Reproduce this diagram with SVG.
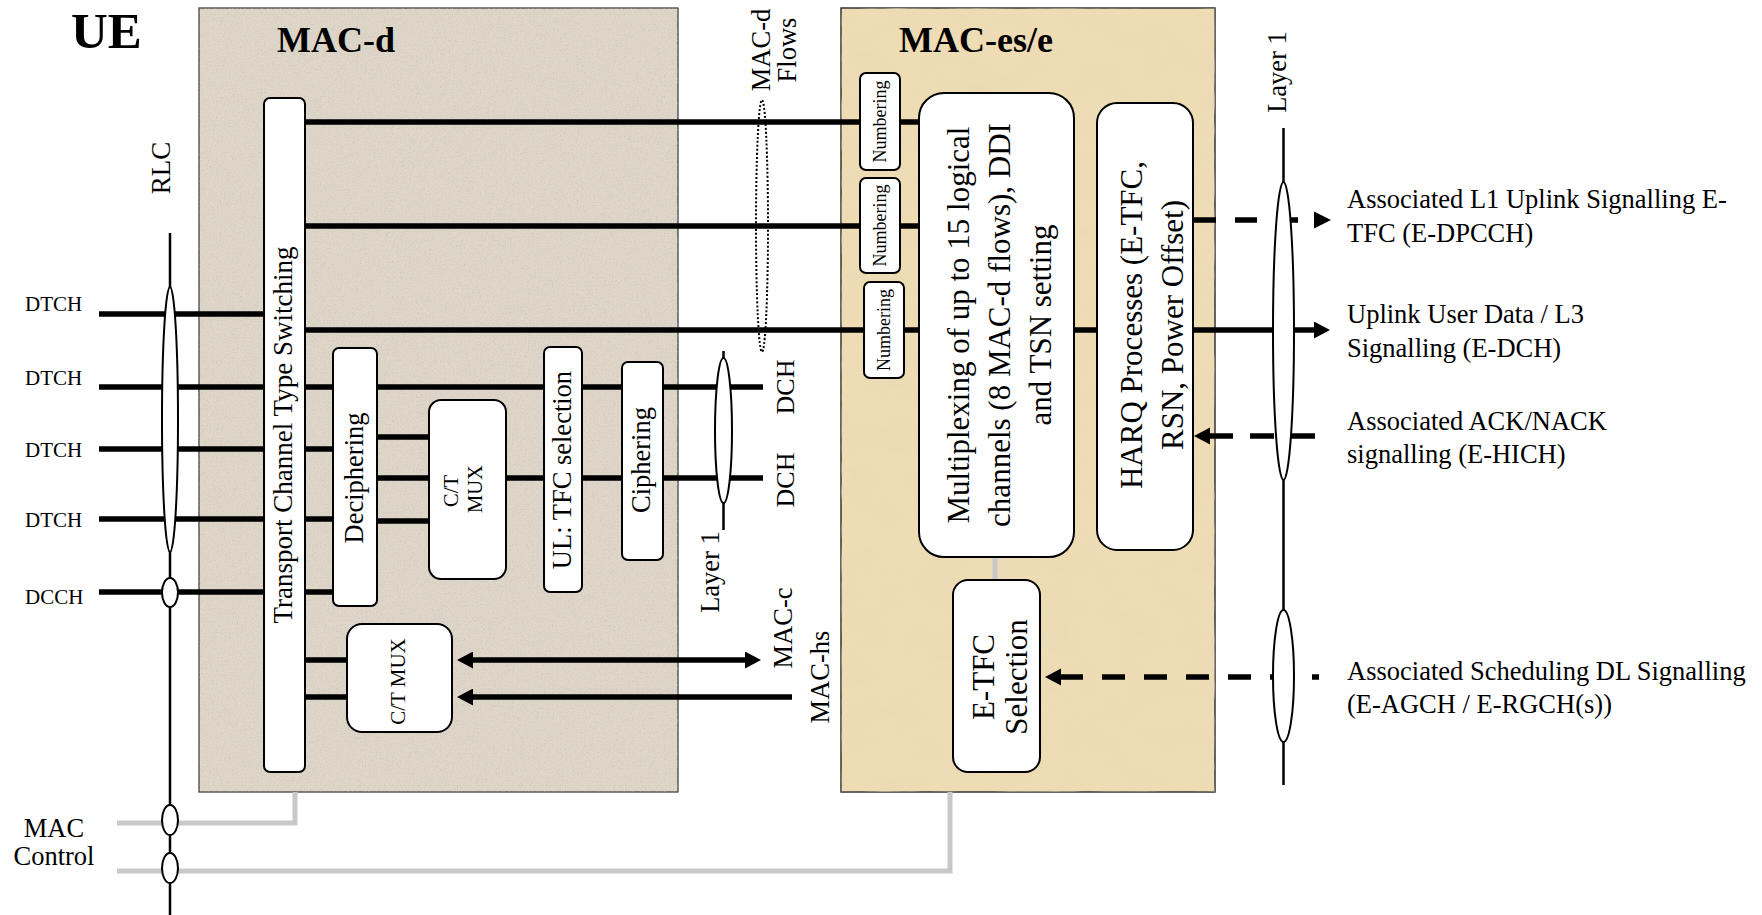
<svg xmlns="http://www.w3.org/2000/svg" width="1762" height="915" viewBox="0 0 1762 915">
<style>
text{font-family:"Liberation Serif","Times New Roman",serif;fill:#000}
.b{font-weight:bold}
.f21{font-size:21px}.f18{font-size:18px}.f24{font-size:26px}.f26{font-size:26.5px}.f31{font-size:31px}
.box{fill:#fff;stroke:#000;stroke-width:2}
.w{stroke:#000;stroke-width:5.5;fill:none}
.g{stroke:#c8c8c8;stroke-width:5;fill:none}
.t{stroke:#000;stroke-width:2.5;fill:none}
.el{fill:#fff;stroke:#000;stroke-width:2}
.mid{text-anchor:middle}
</style>
<defs>
<marker id="ah" viewBox="0 0 16 17" refX="1" refY="8.5" markerWidth="16" markerHeight="17" orient="auto-start-reverse" markerUnits="userSpaceOnUse"><path d="M0,0 L16,8.5 L0,17 z" fill="#000"/></marker>
<filter id="speck" x="0" y="0" width="100%" height="100%">
<feTurbulence type="fractalNoise" baseFrequency="0.75" numOctaves="3" seed="4" result="n"/>
<feColorMatrix in="n" type="matrix" values="0 0 0 0 0.55 0 0 0 0 0.5 0 0 0 0 0.44 0 0 0 -2.5 1.3" result="s"/>
<feComposite in="s" in2="SourceGraphic" operator="in"/>
</filter>
<filter id="cloud" x="0" y="0" width="100%" height="100%">
<feTurbulence type="fractalNoise" baseFrequency="0.025 0.04" numOctaves="3" seed="9" result="n"/>
<feColorMatrix in="n" type="matrix" values="0 0 0 0 0.82 0 0 0 0 0.7 0 0 0 0 0.45 0 0 0 -2.2 1.35" result="s"/>
<feComposite in="s" in2="SourceGraphic" operator="in"/>
</filter>
</defs>
<rect width="1762" height="915" fill="#fff"/>

<g id="ue-title"><text class="b" x="71" y="48" style="font-size:51px">UE</text></g>

<g id="mac-d">
<rect x="199" y="8" width="479" height="784" fill="#ded6c8" stroke="#333" stroke-width="1.2"/>
<rect x="199" y="8" width="479" height="784" fill="#fff" filter="url(#speck)" opacity="0.6"/>
<text class="b" x="277" y="52" style="font-size:36px">MAC-d</text>
</g>

<g id="mac-es-e">
<rect x="841" y="8" width="374" height="784" fill="#eedcb4" stroke="#333" stroke-width="1.5"/>
<rect x="841" y="8" width="374" height="784" fill="#fff" filter="url(#cloud)" opacity="0.7"/>
<text class="b" x="899" y="52" style="font-size:36px">MAC-es/e</text>
</g>

<g id="connectors">
<path class="w" d="M99,314 H264 M99,387 H264 M99,449 H264 M99,519 H264 M99,592 H264"/>
<path class="w" d="M305,387 H333 M305,449 H333 M305,519 H333 M305,592 H333"/>
<path class="w" d="M305,122 H860 M900,122 H919 M305,226 H860 M900,226 H918 M305,330 H864 M904,330 H919 M1074,330 H1097"/>
<path class="w" d="M1193,330 H1315" marker-end="url(#ah)"/>
<path class="w" d="M377,387 H544 M582,387 H622 M663,387 H763"/>
<path class="w" d="M377,437 H429 M377,478 H429 M377,521 H429 M506,478 H544 M582,478 H622 M663,478 H763"/>
<path class="w" d="M305,660 H347 M305,697 H347"/>
<path class="w" d="M472,660 H746" marker-start="url(#ah)" marker-end="url(#ah)"/>
<path class="w" d="M792,697 H472" marker-end="url(#ah)"/>
<path class="w" d="M1194,220 H1300" stroke-dasharray="22 19"/>
<path d="M1314,211.5 L1331,220 L1314,228.5 z" fill="#000"/>
<path class="w" d="M1315,436 H1210" stroke-dasharray="24 17"/>
<path d="M1210,427.5 L1194,436 L1210,444.5 z" fill="#000"/>
<path class="w" d="M1060,677 H1319" stroke-dasharray="23 19"/>
<path d="M1061,668.5 L1045,677 L1061,685.5 z" fill="#000"/>
<path class="g" d="M295,792 V823 H117"/>
<path class="g" d="M950,792 V871 H117"/>
<path class="g" d="M995,557 V580"/>
<path class="t" d="M170,233 V915"/>
<path class="t" d="M723.5,351 V530"/>
<path class="t" d="M1283.5,128 V785"/>
<ellipse class="el" cx="170" cy="419.5" rx="8" ry="132.5"/>
<ellipse class="el" cx="170" cy="592.5" rx="8" ry="14.5"/>
<ellipse class="el" cx="170" cy="820" rx="8" ry="15"/>
<ellipse class="el" cx="170" cy="868" rx="8" ry="15"/>
<ellipse class="el" cx="723.5" cy="430.5" rx="8.5" ry="72.5"/>
<ellipse class="el" cx="1283.5" cy="331" rx="10.5" ry="149"/>
<ellipse class="el" cx="1283.5" cy="676" rx="10.5" ry="66"/>
<ellipse cx="762" cy="226" rx="6" ry="126" fill="none" stroke="#000" stroke-width="2" stroke-dasharray="2 2"/>
</g>

<g id="transport-switching">
<rect class="box" x="264" y="98" width="41" height="674" rx="6"/>
<text class="mid" transform="translate(292,435) rotate(-90)" style="font-size:27px">Transport Channel Type Switching</text>
</g>
<g id="deciphering">
<rect class="box" x="333" y="348" width="44" height="258" rx="6"/>
<text class="f26 mid" transform="translate(363,478) rotate(-90)">Deciphering</text>
</g>
<g id="ct-mux-1">
<rect class="box" x="429" y="400" width="77" height="179" rx="12"/>
<text class="mid" transform="translate(458,491) rotate(-90)" style="font-size:20.5px">C/T</text>
<text class="mid" transform="translate(482,489) rotate(-90)" style="font-size:20.5px">MUX</text>
</g>
<g id="ul-tfc">
<rect class="box" x="544" y="347" width="38" height="245" rx="6"/>
<text class="f26 mid" transform="translate(571,470) rotate(-90)">UL: TFC selection</text>
</g>
<g id="ciphering">
<rect class="box" x="622" y="362" width="41" height="198" rx="6"/>
<text class="f26 mid" transform="translate(650,460) rotate(-90)">Ciphering</text>
</g>
<g id="ct-mux-2">
<rect class="box" x="347" y="624" width="105" height="108" rx="15"/>
<text class="f21 mid" transform="translate(405,681.5) rotate(-90)">C/T MUX</text>
</g>
<g id="numbering-1">
<rect class="box" x="860" y="73" width="40" height="97" rx="6"/>
<text class="f18 mid" transform="translate(886,121.5) rotate(-90)">Numbering</text>
</g>
<g id="numbering-2">
<rect class="box" x="860" y="178" width="40" height="95" rx="6"/>
<text class="f18 mid" transform="translate(886,225.5) rotate(-90)">Numbering</text>
</g>
<g id="numbering-3">
<rect class="box" x="864" y="282" width="40" height="96" rx="6"/>
<text class="f18 mid" transform="translate(890,330) rotate(-90)">Numbering</text>
</g>
<g id="multiplexing">
<rect class="box" x="919" y="93" width="155" height="464" rx="25"/>
<text class="f31 mid" transform="translate(969,325) rotate(-90)">Multiplexing of up to 15 logical</text>
<text class="f31 mid" transform="translate(1010,325) rotate(-90)">channels (8 MAC-d flows), DDI</text>
<text class="f31 mid" transform="translate(1051,325) rotate(-90)">and TSN setting</text>
</g>
<g id="harq">
<rect class="box" x="1097" y="103" width="96" height="447" rx="20"/>
<text class="f31 mid" transform="translate(1142,325) rotate(-90)">HARQ Processes (E-TFC,</text>
<text class="f31 mid" transform="translate(1183,325) rotate(-90)">RSN, Power Offset)</text>
</g>
<g id="etfc">
<rect class="box" x="953" y="580" width="87" height="192" rx="15"/>
<text class="f31 mid" transform="translate(994,677) rotate(-90)">E-TFC</text>
<text class="f31 mid" transform="translate(1027,677) rotate(-90)">Selection</text>
</g>

<g id="labels">
<text class="mid" transform="translate(170,168) rotate(-90)" style="font-size:27px">RLC</text>
<text class="f21" x="25" y="311">DTCH</text>
<text class="f21" x="25" y="385">DTCH</text>
<text class="f21" x="25" y="457">DTCH</text>
<text class="f21" x="25" y="527">DTCH</text>
<text class="f21" x="25" y="604">DCCH</text>
<text class="f26 mid" x="54" y="837">MAC</text>
<text class="f26 mid" x="54" y="865">Control</text>
<text class="f26 mid" transform="translate(770,50) rotate(-90)">MAC-d</text>
<text class="f26 mid" transform="translate(796,50) rotate(-90)">Flows</text>
<text class="f26 mid" transform="translate(719,572) rotate(-90)">Layer 1</text>
<text class="f24 mid" transform="translate(794,387) rotate(-90)">DCH</text>
<text class="f24 mid" transform="translate(794,480) rotate(-90)">DCH</text>
<text class="f26 mid" transform="translate(792,628) rotate(-90)">MAC-c</text>
<text class="f26 mid" transform="translate(829,677) rotate(-90)">MAC-hs</text>
<text class="f26 mid" transform="translate(1286,72) rotate(-90)">Layer 1</text>
<text class="f26" x="1347" y="208">Associated L1 Uplink Signalling E-</text>
<text class="f26" x="1347" y="242">TFC (E-DPCCH)</text>
<text class="f26" x="1347" y="323">Uplink User Data / L3</text>
<text class="f26" x="1347" y="357">Signalling (E-DCH)</text>
<text class="f26" x="1347" y="430">Associated ACK/NACK</text>
<text class="f26" x="1347" y="463">signalling (E-HICH)</text>
<text class="f26" x="1347" y="680">Associated Scheduling DL Signalling</text>
<text class="f26" x="1347" y="713">(E-AGCH / E-RGCH(s))</text>
</g>
</svg>
